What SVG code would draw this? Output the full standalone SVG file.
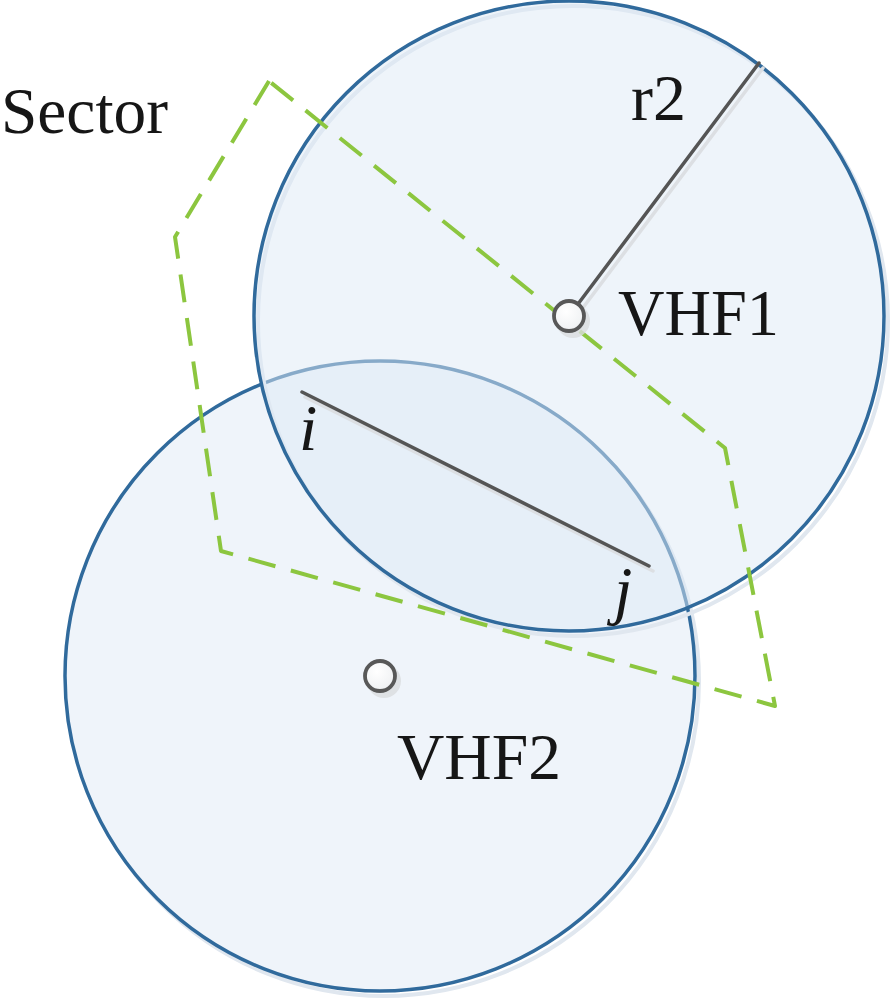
<svg xmlns="http://www.w3.org/2000/svg" width="894" height="1000" viewBox="0 0 894 1000">
<defs>
<radialGradient id="nodeFill" cx="0.4" cy="0.35" r="0.7">
<stop offset="0" stop-color="#ffffff"/>
<stop offset="1" stop-color="#eef0f2"/>
</radialGradient>
<style>
.lbl{font-family:"Liberation Serif","Times New Roman",serif;font-size:66px;fill:#161616}
.ital{font-style:italic}
.halo{fill:none;stroke:#e0e7ef;stroke-width:4}
.ring{stroke:#306a9c;stroke-width:3.5}
.node{fill:url(#nodeFill);stroke:#585858;stroke-width:3.8}
.nodeShadow{fill:#d9dcdf;opacity:0.8}
.sector{fill:none;stroke:#8cc63f;stroke-width:4;stroke-dasharray:28 16;stroke-linejoin:round}
.gline{stroke:#555555;stroke-width:3.5;stroke-linecap:round}
.gshadow{stroke:#dcdfe3;stroke-width:3.5;stroke-linecap:round}
</style>
</defs>
<rect width="894" height="1000" fill="#ffffff"/>
<g id="vhf2">
<circle class="halo" cx="384" cy="681" r="315"/>
<circle class="ring" cx="380" cy="676" r="315" fill="#eff4fa"/>
</g>
<g id="vhf1">
<circle class="halo" cx="573" cy="321" r="315"/>
<circle cx="569" cy="316" r="315" fill="#deeaf6" fill-opacity="0.5" stroke="none"/>
<circle class="ring" cx="569" cy="316" r="315" fill="none"/>
</g>
<g id="connectors">
<line class="gshadow" x1="573" y1="321" x2="763" y2="68"/>
<line class="gline" x1="569" y1="316" x2="759" y2="63"/>
<line class="gshadow" x1="305" y1="397" x2="653" y2="571"/>
<line class="gline" x1="302" y1="392" x2="649" y2="566"/>
</g>
<g id="sector">
<polygon class="sector" points="269,81 175,237 221,551 775,706 725,448"/>
</g>
<g id="vhf1-node">
<circle class="nodeShadow" cx="573" cy="321" r="17"/>
<circle class="node" cx="569" cy="316" r="15"/>
</g>
<g id="vhf2-node">
<circle class="nodeShadow" cx="384" cy="681" r="17"/>
<circle class="node" cx="380" cy="676" r="15"/>
</g>
<g id="labels">
<text class="lbl" x="1" y="133" textLength="167" lengthAdjust="spacingAndGlyphs">Sector</text>
<text class="lbl" x="631" y="120">r2</text>
<text class="lbl" x="618" y="335" textLength="161" lengthAdjust="spacingAndGlyphs">VHF1</text>
<text class="lbl" x="397" y="779" textLength="164" lengthAdjust="spacingAndGlyphs">VHF2</text>
<text class="lbl ital" x="299" y="450">i</text>
<text class="lbl ital" x="614" y="612">j</text>
</g>
</svg>
